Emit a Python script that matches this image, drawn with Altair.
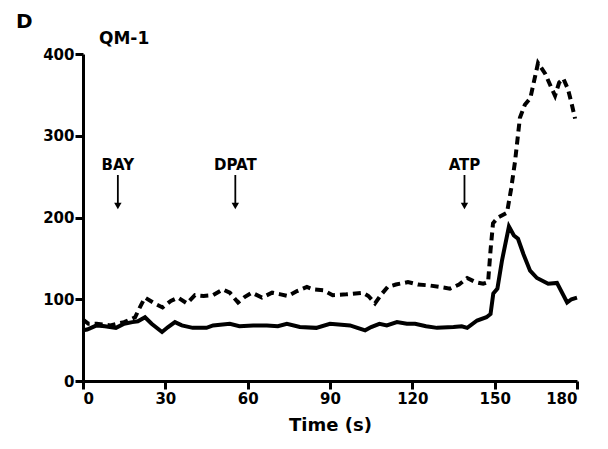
import altair as alt
import pandas as pd

# Time course (s) and response values for the two traces
solid_t = [0, 1.5, 5, 8, 12, 15, 18, 20, 22.6, 25, 28.8, 31, 33.5, 36, 40, 45, 47.4,
           53.5, 57, 62, 67, 71, 74.3, 79, 85, 90, 97.3, 100, 102.8, 105, 108, 110.7,
           114.4, 118, 121, 125, 129, 135, 138, 140, 143.6, 147, 148.5, 149.5, 151,
           152.7, 155.2, 157, 158.5, 160.5, 162.9, 165.4, 169.5, 172.7, 176.4, 178, 180]
solid_v = [62, 63, 68, 67, 65, 70, 72, 73, 78, 70, 60, 66, 72, 68, 65, 65, 68,
           70, 67, 68, 68, 67, 70, 66, 65, 70, 68, 65, 62, 66, 70, 68,
           72, 70, 70, 67, 65, 66, 67, 65, 74, 78, 82, 107, 113,
           148, 189, 178, 174, 155, 135, 126, 119, 120, 96, 100, 102]

dashed_t = [0, 2, 5, 10, 15, 19, 21, 22.6, 26, 29, 32, 34.6, 37.9, 40.8, 44, 47.4,
            51, 53.5, 56.5, 59, 61.6, 65.2, 68.9, 72, 74.7, 78, 81.6, 84, 87.5, 91,
            96, 102, 104, 106.4, 108.5, 111, 114, 118.4, 122, 126, 130, 133.7, 137,
            140, 143, 145.8, 147.6, 148.5, 149.4, 151.2, 154.5, 156, 157.4, 159.2,
            161, 163, 165.8, 168.4, 170.5, 172, 173.5, 175, 176.7, 178, 179.3]
dashed_v = [75, 70, 70, 68, 72, 78, 92, 102, 95, 90, 98, 102, 95, 105, 104, 105,
            112, 108, 96, 103, 108, 102, 108, 106, 104, 110, 115, 112, 111, 105,
            106, 108, 104, 95, 105, 115, 118, 121, 118, 117, 115, 113, 118,
            126, 121, 119, 121, 160, 193, 200, 206, 235, 268, 322,
            338, 346, 389, 376, 360, 349, 365, 370, 357, 340, 321]

# Drug additions marked with arrows
event_labels = ["BAY", "DPAT", "ATP"]
event_times = [12.7, 55.5, 139]

solid = pd.DataFrame({"t": solid_t, "v": solid_v})
dashed = pd.DataFrame({"t": dashed_t, "v": dashed_v})
events = pd.DataFrame({"label": event_labels, "t": event_times})
events["text_y"] = 264
events["top"] = 252
events["tip"] = 214
events["head"] = 216

FONT = "DejaVu Sans"

x_scale = alt.Scale(domain=[0, 180], nice=False, zero=False)
y_scale = alt.Scale(domain=[0, 400], nice=False)

x_axis = alt.Axis(values=[0, 30, 60, 90, 120, 150, 180], title="Time (s)",
                  titleFont=FONT, titleFontSize=18, titleFontWeight="bold",
                  titleColor="black", titlePadding=10,
                  labelFont=FONT, labelFontSize=15, labelFontWeight="bold",
                  labelColor="black", labelPadding=2, grid=False,
                  domainColor="black", domainWidth=3, tickColor="black",
                  tickWidth=3, tickSize=8)
y_axis = alt.Axis(values=[0, 100, 200, 300, 400], title=None,
                  labelFont=FONT, labelFontSize=15, labelFontWeight="bold",
                  labelColor="black", labelPadding=1, grid=False,
                  domainColor="black", domainWidth=3, tickColor="black",
                  tickWidth=3, tickSize=8)

solid_line = alt.Chart(solid).mark_line(color="black", strokeWidth=4).encode(
    x=alt.X("t:Q", scale=x_scale, axis=x_axis),
    y=alt.Y("v:Q", scale=y_scale, axis=y_axis),
)

dashed_line = alt.Chart(dashed).mark_line(
    color="black", strokeWidth=4, strokeDash=[8, 5]
).encode(
    x=alt.X("t:Q", scale=x_scale),
    y=alt.Y("v:Q", scale=y_scale),
)

labels = alt.Chart(events).mark_text(
    font=FONT, fontSize=15, fontWeight="bold", color="black", baseline="middle"
).encode(
    x=alt.X("t:Q", scale=x_scale),
    y=alt.Y("text_y:Q", scale=y_scale),
    text="label:N",
)

shafts = alt.Chart(events).mark_rule(color="black", strokeWidth=1.8).encode(
    x=alt.X("t:Q", scale=x_scale),
    y=alt.Y("top:Q", scale=y_scale),
    y2="head:Q",
)

heads = alt.Chart(events).mark_point(
    shape="triangle-down", filled=True, color="black", size=55, opacity=1
).encode(
    x=alt.X("t:Q", scale=x_scale),
    y=alt.Y("tip:Q", scale=y_scale),
)

# Panel letter and cell-line name placed in pixel space above the plot
panel = alt.Chart(pd.DataFrame({"s": ["D"]})).mark_text(
    font=FONT, fontSize=20, fontWeight="bold", color="black", align="left",
    baseline="middle"
).encode(x=alt.value(-67), y=alt.value(-32), text="s:N")

name = alt.Chart(pd.DataFrame({"s": ["QM-1"]})).mark_text(
    font=FONT, fontSize=17, fontWeight="bold", color="black", align="left",
    baseline="middle"
).encode(x=alt.value(16), y=alt.value(-15), text="s:N")

chart = alt.layer(solid_line, dashed_line, shafts, heads, labels, panel, name).properties(
    width=494,
    height=327,
    autosize=alt.AutoSizeParams(type="none"),
    padding={"left": 83, "top": 54, "right": 31, "bottom": 68},
).configure_view(stroke=None)

chart.save("out.html", embed_options={"renderer": "svg", "actions": False})
